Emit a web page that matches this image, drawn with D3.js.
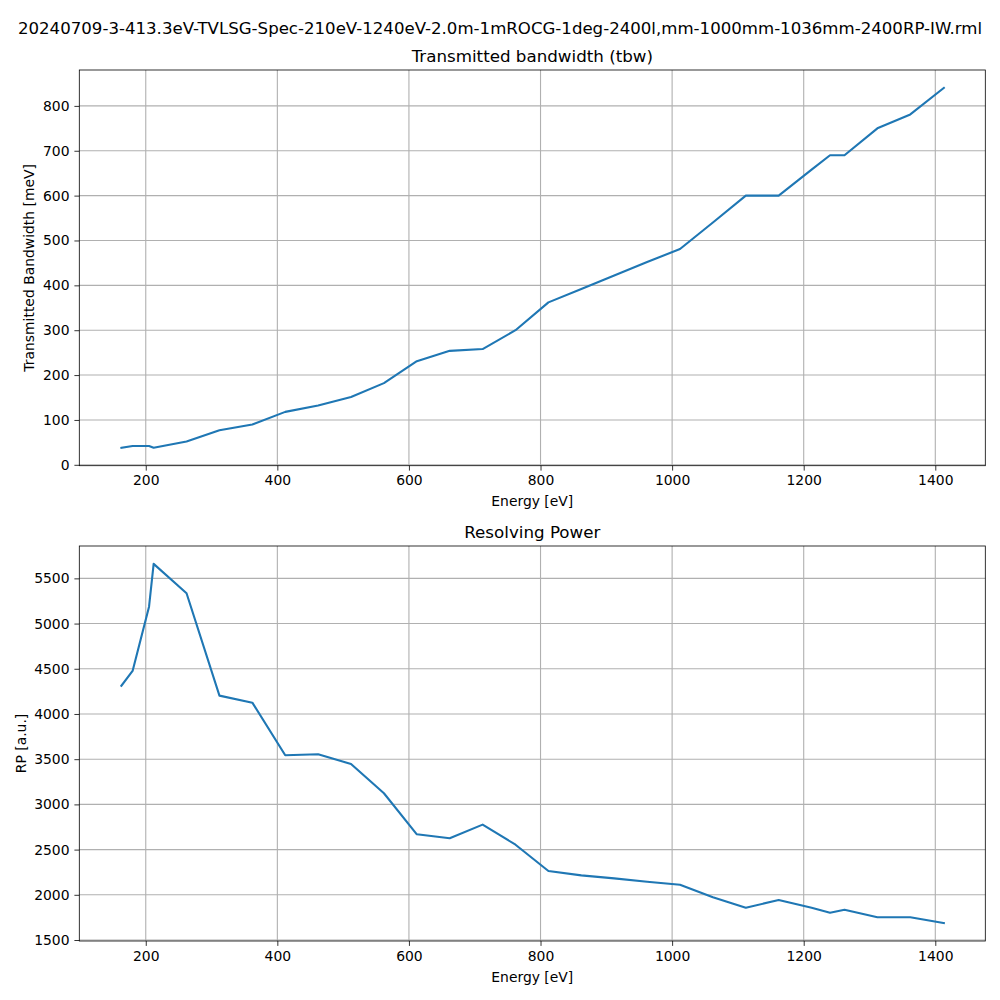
<!DOCTYPE html>
<html>
<head>
<meta charset="utf-8">
<script src="https://cdn.jsdelivr.net/npm/d3@7"></script>
<style>
  body { margin: 0; background: #fff; }
  text { font-family: "DejaVu Sans", sans-serif; fill: #000; }
</style>
</head>
<body>
<script>
// photon energy of each ray trace [eV]
var energy = [163, 180, 205, 212, 262, 312, 362, 412, 462, 512, 562, 612, 662, 712, 762,
              812, 862, 912, 962, 1012, 1062, 1112, 1162, 1212, 1240, 1262, 1312, 1362, 1413];
// transmitted bandwidth [meV]
var tbw = [38, 42, 42, 38, 52, 77, 90, 118, 132, 151, 182, 231, 254, 258, 300,
           362, 392, 422, 452, 481, 540, 600, 600, 658, 690, 690, 750, 781, 840];
// resolving power [a.u.]
var rp = [4313, 4476, 5187, 5660, 5335, 4203, 4125, 3543, 3554, 3447, 3123, 2669, 2625, 2776, 2554,
          2263, 2215, 2182, 2145, 2112, 1972, 1857, 1942, 1857, 1802, 1835, 1751, 1751, 1688];

var energyTicks = [200, 400, 600, 800, 1000, 1200, 1400];
var tbwTicks = [0, 100, 200, 300, 400, 500, 600, 700, 800];
var rpTicks = [1500, 2000, 2500, 3000, 3500, 4000, 4500, 5000, 5500];

var figTitle = "20240709-3-413.3eV-TVLSG-Spec-210eV-1240eV-2.0m-1mROCG-1deg-2400l,mm-1000mm-1036mm-2400RP-IW.rml";

var width = 1000, height = 1000;
var left = 79.3, right = 985.3;

var svg = d3.select("body").append("svg")
    .attr("width", width)
    .attr("height", height);

svg.append("text")
    .attr("x", width / 2)
    .attr("y", 34)
    .attr("text-anchor", "middle")
    .style("font-size", "16.6px")
    .text(figTitle);

var x = d3.scaleLinear()
    .domain([99, 1476])
    .range([left, right]);

function panel(top, bottom, values, yDomain, yTicks, title, ylabel, ylabelX, id) {
    var y = d3.scaleLinear().domain(yDomain).range([bottom, top]);
    var g = svg.append("g");

    // grid
    g.append("g").selectAll("line").data(energyTicks).enter().append("line")
        .attr("x1", d => x(d)).attr("x2", d => x(d))
        .attr("y1", top).attr("y2", bottom)
        .attr("stroke", "#b0b0b0").attr("stroke-width", 1.1);
    g.append("g").selectAll("line").data(yTicks).enter().append("line")
        .attr("x1", left).attr("x2", right)
        .attr("y1", d => y(d)).attr("y2", d => y(d))
        .attr("stroke", "#b0b0b0").attr("stroke-width", 1.1);

    svg.append("clipPath").attr("id", id)
        .append("rect")
        .attr("x", left).attr("y", top)
        .attr("width", right - left).attr("height", bottom - top);

    var line = d3.line()
        .x((d, i) => x(energy[i]))
        .y(d => y(d));

    g.append("path")
        .datum(values)
        .attr("clip-path", "url(#" + id + ")")
        .attr("fill", "none")
        .attr("stroke", "#1f77b4")
        .attr("stroke-width", 2.1)
        .attr("stroke-linejoin", "round")
        .attr("stroke-linecap", "square")
        .attr("d", line);

    // axes
    var xAxis = g.append("g")
        .attr("transform", "translate(0," + bottom + ")")
        .call(d3.axisBottom(x).tickValues(energyTicks).tickSize(4.9).tickPadding(4.9).tickFormat(d3.format("d")));
    var yAxis = g.append("g")
        .attr("transform", "translate(" + left + ",0)")
        .call(d3.axisLeft(y).tickValues(yTicks).tickSize(4.9).tickPadding(4.9).tickFormat(d3.format("d")));
    [xAxis, yAxis].forEach(a => {
        a.select(".domain").remove();
        a.selectAll(".tick line").attr("stroke", "#000").attr("stroke-width", 0.8);
        a.selectAll(".tick text")
            .style("font-size", "13.9px")
            .style("font-family", '"DejaVu Sans", sans-serif')
            .attr("fill", "#000");
    });

    // frame
    g.append("rect")
        .attr("x", left).attr("y", top)
        .attr("width", right - left).attr("height", bottom - top)
        .attr("fill", "none")
        .attr("stroke", "#000")
        .attr("stroke-width", 0.8);

    g.append("text")
        .attr("x", (left + right) / 2)
        .attr("y", top - 7.8)
        .attr("text-anchor", "middle")
        .style("font-size", "16.7px")
        .text(title);

    g.append("text")
        .attr("x", (left + right) / 2)
        .attr("y", bottom + 40.5)
        .attr("text-anchor", "middle")
        .style("font-size", "13.9px")
        .text("Energy [eV]");

    g.append("text")
        .attr("transform", "translate(" + ylabelX + "," + (top + bottom) / 2 + ") rotate(-90)")
        .attr("text-anchor", "middle")
        .style("font-size", "13.9px")
        .text(ylabel);
}

panel(70, 465.7, tbw, [-2, 880], tbwTicks, "Transmitted bandwidth (tbw)", "Transmitted Bandwidth [meV]", 34, "clipTop");
panel(546, 941, rp, [1489, 5858], rpTicks, "Resolving Power", "RP [a.u.]", 25.5, "clipBottom");
</script>
</body>
</html>
